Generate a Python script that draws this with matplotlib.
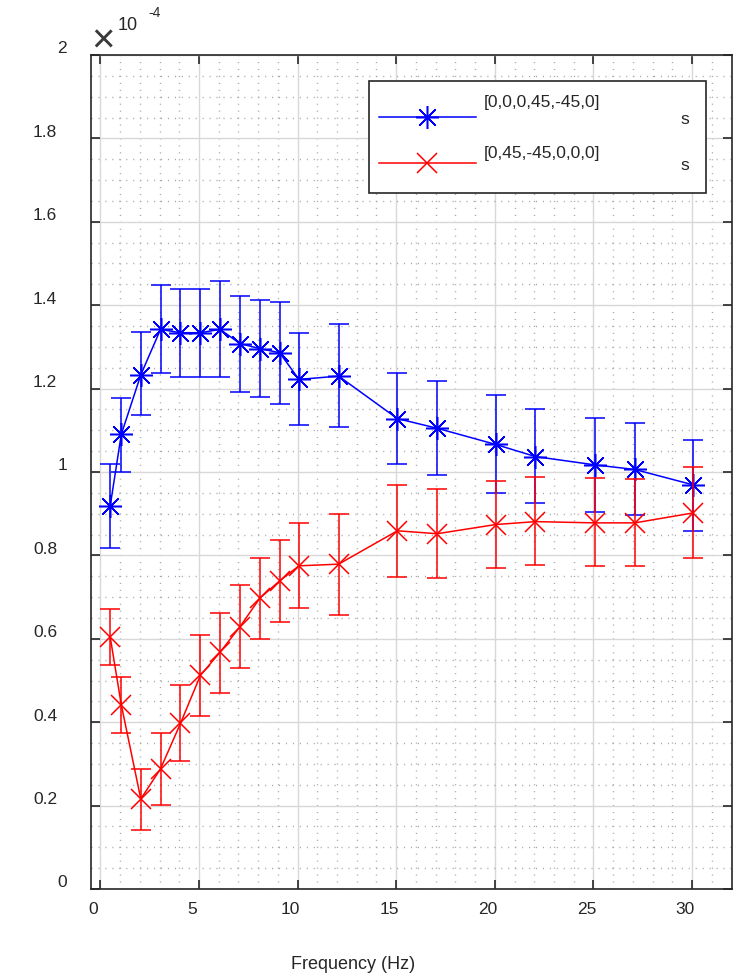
import numpy as np
import matplotlib
matplotlib.use("Agg")
import matplotlib.pyplot as plt
from matplotlib.lines import Line2D
from matplotlib.patches import Rectangle
from matplotlib.ticker import MultipleLocator, FormatStrFormatter
from matplotlib.transforms import ScaledTranslation

plt.rcParams['font.family'] = ['Liberation Sans', 'DejaVu Sans']

# --- data (values in units of 1e-4) ---
freq = np.array([0.5, 1.06, 2.05, 3.05, 4.06, 5.07, 6.07, 7.08, 8.08, 9.09,
                 10.07, 12.08, 15.06, 17.07, 20.05, 22.06, 25.08, 27.1, 30.07])

blue_label = "[0,0,0,45,-45,0]"
blue_mean = np.array([0.919, 1.090, 1.233, 1.342, 1.334, 1.334, 1.342, 1.308, 1.296, 1.286,
                      1.222, 1.230, 1.128, 1.105, 1.066, 1.037, 1.017, 1.006, 0.969])
blue_top = np.array([1.019, 1.177, 1.336, 1.448, 1.440, 1.440, 1.458, 1.421, 1.412, 1.407,
                     1.334, 1.356, 1.238, 1.218, 1.184, 1.150, 1.129, 1.117, 1.077])
blue_bot = np.array([0.818, 1.001, 1.136, 1.237, 1.228, 1.229, 1.228, 1.193, 1.180, 1.164,
                     1.112, 1.108, 1.018, 0.994, 0.949, 0.925, 0.905, 0.897, 0.858])

red_label = "[0,45,-45,0,0,0]"
red_mean = np.array([0.604, 0.442, 0.216, 0.288, 0.397, 0.512, 0.568, 0.629, 0.697, 0.739,
                     0.775, 0.779, 0.859, 0.852, 0.874, 0.881, 0.878, 0.878, 0.902])
red_top = np.array([0.672, 0.508, 0.288, 0.374, 0.490, 0.610, 0.661, 0.728, 0.793, 0.837,
                    0.878, 0.899, 0.969, 0.959, 0.979, 0.987, 0.985, 0.984, 1.013])
red_bot = np.array([0.536, 0.374, 0.142, 0.202, 0.306, 0.416, 0.469, 0.529, 0.600, 0.640,
                    0.675, 0.657, 0.749, 0.747, 0.769, 0.777, 0.775, 0.775, 0.794])

xticks = [0, 5, 10, 15, 20, 25, 30]
yticks = np.arange(0, 2.01, 0.2)

# --- figure ---
fig = plt.figure(figsize=(7.43, 9.8), dpi=100)
ax = fig.add_axes([90.5 / 743, (980 - 889) / 980, 641 / 743, 834 / 980])

blue = '#0000ff'
red = '#ff0000'
star = (8, 2, 0)  # 8-spoke asterisk like matlab '*'

ax.errorbar(freq, blue_mean, yerr=[blue_mean - blue_bot, blue_top - blue_mean],
            color=blue, lw=1.1, elinewidth=1.1, capsize=7, capthick=1.1,
            marker=star, ms=16.5, mew=1.1, zorder=3)
ax.errorbar(freq, red_mean, yerr=[red_mean - red_bot, red_top - red_mean],
            color=red, lw=1.1, elinewidth=1.1, capsize=7, capthick=1.1,
            marker='x', ms=14, mew=1.1, zorder=4)

ax.set_xlim(-0.5, 32)
ax.set_ylim(0, 2)
ax.set_xticks(xticks)
ax.set_yticks(yticks)
ax.yaxis.set_major_formatter(FormatStrFormatter('%g'))
ax.xaxis.set_minor_locator(MultipleLocator(1))
ax.yaxis.set_minor_locator(MultipleLocator(0.05))

ax.grid(True, which='major', color='#d8d8d8', lw=1.0, ls='-', zorder=0)
ax.grid(True, which='minor', color='#a8a8a8', lw=1.0, ls=(0, (0.8, 4.2)), zorder=0)
ax.set_axisbelow(True)

for s in ax.spines.values():
    s.set_color('#262626')
    s.set_linewidth(1.2)

ax.tick_params(which='major', direction='in', length=6.5, width=1.2, color='#262626',
               top=True, right=True, labelsize=12.5, labelcolor='#262626')
ax.tick_params(which='minor', length=0)
ax.tick_params(axis='x', pad=9)
ax.tick_params(axis='y', pad=24)

# matlab-ish label placement
for lab in ax.get_xticklabels():
    lab.set_transform(lab.get_transform() + ScaledTranslation(-5 / 72, 0, fig.dpi_scale_trans))
for lab in ax.get_yticklabels():
    dx = 7.2 if '.' not in lab.get_text() else 0
    lab.set_transform(lab.get_transform() + ScaledTranslation(dx / 72, 5.5 / 72, fig.dpi_scale_trans))

ax.set_xlabel("Frequency (Hz)", fontsize=13, color='#262626')
ax.xaxis.set_label_coords(0.4095, -0.0911)
ax.xaxis.label.set_va('center')

# exponent label
fig.text(103 / 743, 1 - 41 / 980, "\u00d7", fontsize=29, ha='center', va='center',
         color='#3a3a3a')
fig.text(128 / 743, 1 - 26 / 980, "10", fontsize=13, ha='center', va='center', color='#262626')
fig.text(155 / 743, 1 - 13 / 980, "-4", fontsize=10, ha='center', va='center', color='#262626')

# legend box
T = ax.transAxes
ax.add_artist(Rectangle((0.4345, 0.8342), 0.5257, 0.1346, transform=T, facecolor='white',
                        edgecolor='#262626', lw=1.2, zorder=10))
for y_line, y_txt, col, mk, ms, lab in [(0.9257, 0.9430, blue, star, 16.5, blue_label),
                                        (0.8702, 0.8822, red, 'x', 14, red_label)]:
    ax.add_artist(Line2D([0.4501, 0.6014], [y_line, y_line], transform=T, color=col,
                         lw=1.1, zorder=11))
    ax.add_artist(Line2D([0.5254], [y_line], transform=T, color=col, marker=mk, ms=ms,
                         mew=1.1, zorder=11))
    ax.text(0.6139, y_txt, lab, transform=T, fontsize=12.5, va='center', ha='left',
            color='#262626', zorder=12)
    ax.text(0.9275, y_line - 0.003, "s", transform=T, fontsize=12.5, va='center',
            ha='center', color='#262626', zorder=12)

fig.savefig("out.png", dpi=100)
